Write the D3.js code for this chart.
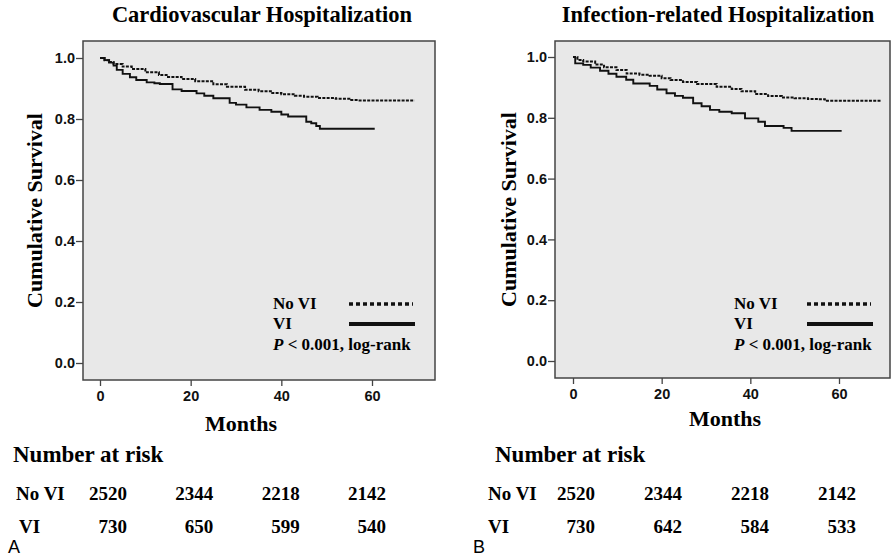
<!DOCTYPE html>
<html>
<head>
<meta charset="utf-8">
<script src="https://cdn.jsdelivr.net/npm/d3@7"></script>
<style>
  html, body { margin: 0; padding: 0; background: #fff; }
  svg { display: block; }
</style>
</head>
<body>
<svg id="chart" width="892" height="559"></svg>
<script>
// ---- data ----
var panelTitles = ["Cardiovascular Hospitalization", "Infection-related Hospitalization"];
var panelLetters = ["A", "B"];
var groupNames = ["No VI", "VI"];
var xTicks = [0, 20, 40, 60];
var yTicks = [0.0, 0.2, 0.4, 0.6, 0.8, 1.0];
var riskMonths = [0, 20, 40, 60];

// panel A: cardiovascular hospitalization
var cvNoViTime = [0, 1, 2, 3, 5, 7, 10, 13, 15, 18, 21, 25, 28, 32, 35, 38, 40, 43, 45, 48, 52, 55, 57, 69.4];
var cvNoViSurv = [1.0, 0.993, 0.987, 0.980, 0.972, 0.964, 0.953, 0.944, 0.938, 0.931, 0.924, 0.914, 0.906, 0.896, 0.891, 0.885, 0.881, 0.876, 0.873, 0.869, 0.866, 0.862, 0.861, 0.861];
var cvViTime = [0, 1, 2, 3, 3.7, 5, 6.6, 8, 10.3, 12, 13.2, 16, 18, 21.3, 23, 25, 28.6, 30, 32.3, 35.2, 37.8, 40, 41.5, 45.5, 46.6, 47.7, 48.5, 60.6];
var cvViSurv = [1.0, 0.993, 0.985, 0.975, 0.961, 0.948, 0.937, 0.928, 0.920, 0.917, 0.915, 0.897, 0.892, 0.884, 0.876, 0.868, 0.853, 0.847, 0.838, 0.830, 0.824, 0.815, 0.808, 0.791, 0.786, 0.777, 0.768, 0.768];
var cvRiskNoVi = [2520, 2344, 2218, 2142];
var cvRiskVi = [730, 650, 599, 540];

// panel B: infection-related hospitalization
var infNoViTime = [0, 1, 2.3, 5, 7, 9.8, 12.1, 15, 17.3, 20, 22, 24.8, 28, 32.4, 35.8, 38, 41.1, 44, 47.1, 50, 53, 55.3, 56.8, 69.6];
var infNoViSurv = [1.0, 0.990, 0.985, 0.975, 0.966, 0.957, 0.946, 0.942, 0.938, 0.930, 0.924, 0.918, 0.911, 0.902, 0.895, 0.887, 0.878, 0.872, 0.867, 0.864, 0.862, 0.861, 0.856, 0.856];
var infViTime = [0, 0.5, 2.3, 4, 6.1, 8, 9.8, 12, 13.6, 17.3, 19, 21.1, 23, 24.8, 27.1, 29, 30.9, 33, 35.8, 38.8, 41.8, 43.3, 47.5, 49.3, 60.6];
var infViSurv = [1.0, 0.979, 0.974, 0.965, 0.955, 0.945, 0.935, 0.925, 0.913, 0.905, 0.893, 0.881, 0.872, 0.866, 0.848, 0.838, 0.826, 0.820, 0.815, 0.798, 0.787, 0.773, 0.767, 0.757, 0.757];
var infRiskNoVi = [2520, 2344, 2218, 2142];
var infRiskVi = [730, 642, 584, 533];

// ---- layout (pixels) ----
var SERIF = "'Liberation Serif', 'Times New Roman', serif";
var SANS = "'Liberation Sans', Arial, sans-serif";

var layouts = [
    {box: [83, 41, 435, 380], x0: 100, x60: 372, y0: 363, y1: 58, titleX: 262, yLabX: 34, monthsX: 241, monthsY: 431,
     legX: 273, legLine: [349, 413], riskHeadX: 13, rowLabX: [16, 19], riskRight: [127, 386], letterX: 8},
    {box: [555, 41, 890, 378], x0: 573, x60: 839, y0: 361, y1: 57, titleX: 718, yLabX: 508, monthsX: 725, monthsY: 426,
     legX: 734, legLine: [807, 871], riskHeadX: 495, rowLabX: [488, 488], riskRight: [595, 856], letterX: 473}
];

var panels = [
    {title: panelTitles[0], letter: panelLetters[0],
     curves: [[cvNoViTime, cvNoViSurv], [cvViTime, cvViSurv]], risk: [cvRiskNoVi, cvRiskVi]},
    {title: panelTitles[1], letter: panelLetters[1],
     curves: [[infNoViTime, infNoViSurv], [infViTime, infViSurv]], risk: [infRiskNoVi, infRiskVi]}
];

var svg = d3.select("#chart");

function drawPanel(p, L) {
    var g = svg.append("g");
    var b = L.box;

    var x = d3.scaleLinear().domain([0, 60]).range([L.x0, L.x60]);
    var y = d3.scaleLinear().domain([0, 1]).range([L.y0, L.y1]);

    // title
    g.append("text")
        .attr("x", L.titleX).attr("y", 22)
        .attr("text-anchor", "middle")
        .style("font-family", SERIF).style("font-weight", "bold").style("font-size", "22.5px")
        .text(p.title);

    // plot box
    g.append("rect")
        .attr("x", b[0]).attr("y", b[1])
        .attr("width", b[2] - b[0]).attr("height", b[3] - b[1])
        .style("fill", "#e8e8e8").style("stroke", "#444").style("stroke-width", 1.5);

    // axes
    var yAxis = g.append("g")
        .attr("transform", "translate(" + b[0] + ",0)")
        .call(d3.axisLeft(y).tickValues(yTicks).tickFormat(d3.format(".1f")).tickSize(7).tickSizeOuter(0).tickPadding(1));
    var xAxis = g.append("g")
        .attr("transform", "translate(0," + b[3] + ")")
        .call(d3.axisBottom(x).tickValues(xTicks).tickSize(6).tickSizeOuter(0).tickPadding(5));
    [xAxis, yAxis].forEach(function(ax) {
        ax.select(".domain").remove();
        ax.selectAll("line").style("stroke", "#444").style("stroke-width", 1.3);
        ax.selectAll("text")
            .style("font-family", SANS).style("font-weight", "bold").style("font-size", "14.5px")
            .style("fill", "#111");
    });

    // axis titles
    g.append("text")
        .attr("transform", "translate(" + L.yLabX + "," + ((b[1] + b[3]) / 2) + ") rotate(-90)")
        .attr("text-anchor", "middle").attr("dy", "0.35em")
        .style("font-family", SERIF).style("font-weight", "bold").style("font-size", "22px")
        .text("Cumulative Survival");
    g.append("text")
        .attr("x", L.monthsX).attr("y", L.monthsY)
        .attr("text-anchor", "middle")
        .style("font-family", SERIF).style("font-weight", "bold").style("font-size", "22px")
        .text("Months");

    // survival curves
    var line = d3.line()
        .x(function(d) { return x(d[0]); })
        .y(function(d) { return y(d[1]); })
        .curve(d3.curveStepAfter);

    p.curves.forEach(function(c, i) {
        var pts = c[0].map(function(t, k) { return [t, c[1][k]]; });
        var path = g.append("path")
            .datum(pts)
            .attr("d", line)
            .style("fill", "none")
            .style("stroke", "#111");
        if (i == 0)
            path.style("stroke-width", 2).style("stroke-dasharray", "3,1.3");
        else
            path.style("stroke-width", 1.9);
    });

    // legend
    var legY = [309, 329];
    groupNames.forEach(function(name, i) {
        g.append("text")
            .attr("x", L.legX).attr("y", legY[i])
            .style("font-family", SERIF).style("font-weight", "bold").style("font-size", "17px")
            .text(name);
        var ln = g.append("line")
            .attr("x1", L.legLine[0]).attr("x2", L.legLine[1] + (i == 1 ? 2 : 0))
            .attr("y1", legY[i] - 5).attr("y2", legY[i] - 5)
            .style("stroke", "#111");
        if (i == 0)
            ln.style("stroke-width", 3.5).style("stroke-dasharray", "4,3");
        else
            ln.style("stroke-width", 4);
    });
    var pv = g.append("text")
        .attr("x", L.legX).attr("y", 350)
        .style("font-family", SERIF).style("font-weight", "bold").style("font-size", "17px");
    pv.append("tspan").style("font-style", "italic").text("P");
    pv.append("tspan").text(" < 0.001, log-rank");

    // number at risk table
    g.append("text")
        .attr("x", L.riskHeadX).attr("y", 462)
        .style("font-family", SERIF).style("font-weight", "bold").style("font-size", "23px")
        .text("Number at risk");

    var rx = d3.scaleLinear().domain([0, 60]).range(L.riskRight);
    var rowY = [500, 533];
    p.risk.forEach(function(row, i) {
        g.append("text")
            .attr("x", L.rowLabX[i]).attr("y", rowY[i])
            .style("font-family", SERIF).style("font-weight", "bold").style("font-size", "19px")
            .text(groupNames[i]);
        g.selectAll(null)
            .data(row)
            .enter().append("text")
            .attr("x", function(d, k) { return rx(riskMonths[k]); })
            .attr("y", rowY[i])
            .attr("text-anchor", "end")
            .style("font-family", SERIF).style("font-weight", "bold").style("font-size", "19px")
            .text(function(d) { return d; });
    });

    // panel letter
    g.append("text")
        .attr("x", L.letterX).attr("y", 553)
        .style("font-family", SANS).style("font-size", "18px")
        .text(p.letter);
}

panels.forEach(function(p, i) { drawPanel(p, layouts[i]); });
</script>
</body>
</html>
